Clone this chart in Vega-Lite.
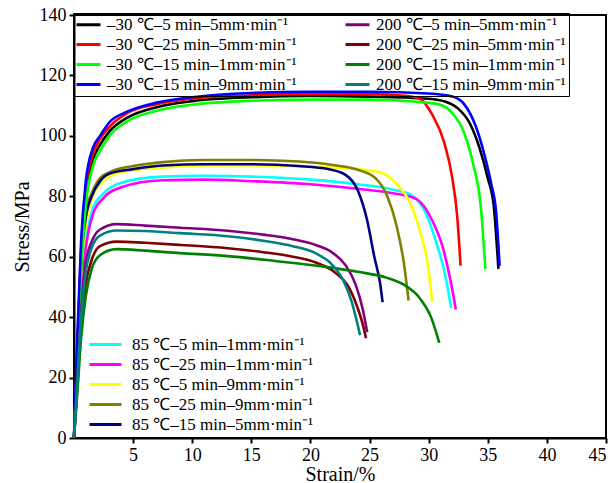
{
"$schema":"https://vega.github.io/schema/vega-lite/v6.json",
"width":532,"height":423,
"autosize":{"type":"none"},
"padding":{"left":74,"top":15,"right":8,"bottom":45},
"config":{"font":"Liberation Serif","view":{"stroke":"black","strokeWidth":2},
"axis":{"domainColor":"black","domainWidth":2,"tickColor":"black","tickWidth":2,"tickSize":5,"labelFont":"Liberation Serif","labelFontSize":18,"labelColor":"black","titleFont":"Liberation Serif","titleFontSize":20,"titleFontWeight":"normal","titleColor":"black","grid":false},
"legend":{"labelFont":"Liberation Serif","labelFontSize":17,"labelColor":"black","labelLimit":0,"symbolStrokeWidth":3,"title":null}},
"data":{"values":[
{"k":"A1","x":0,"y":0},{"k":"A1","x":0.3,"y":30},{"k":"A1","x":0.6,"y":58},{"k":"A1","x":1.0,"y":80},{"k":"A1","x":1.6,"y":92},{"k":"A1","x":2.2,"y":97},{"k":"A1","x":3,"y":101.5},{"k":"A1","x":4.5,"y":106},{"k":"A1","x":7,"y":109.5},{"k":"A1","x":10,"y":111.5},{"k":"A1","x":15,"y":112.8},{"k":"A1","x":20,"y":113.2},{"k":"A1","x":25,"y":113},{"k":"A1","x":30,"y":112.3},{"k":"A1","x":31.5,"y":111.2},{"k":"A1","x":32.5,"y":109},{"k":"A1","x":33.5,"y":104},{"k":"A1","x":34.3,"y":96},{"k":"A1","x":35,"y":86},{"k":"A1","x":35.5,"y":77},{"k":"A1","x":35.9,"y":56},
{"k":"A2","x":0,"y":0},{"k":"A2","x":0.3,"y":33},{"k":"A2","x":0.6,"y":62},{"k":"A2","x":1.0,"y":83},{"k":"A2","x":1.6,"y":94},{"k":"A2","x":2.2,"y":99},{"k":"A2","x":3,"y":103},{"k":"A2","x":4.5,"y":107.5},{"k":"A2","x":7,"y":110.5},{"k":"A2","x":10,"y":112.3},{"k":"A2","x":15,"y":113.4},{"k":"A2","x":20,"y":113.8},{"k":"A2","x":25,"y":113.8},{"k":"A2","x":28,"y":113.3},{"k":"A2","x":29.3,"y":112.2},{"k":"A2","x":30.3,"y":107},{"k":"A2","x":31.3,"y":98},{"k":"A2","x":32,"y":86},{"k":"A2","x":32.4,"y":74},{"k":"A2","x":32.7,"y":57},
{"k":"A3","x":0,"y":0},{"k":"A3","x":0.3,"y":28},{"k":"A3","x":0.6,"y":55},{"k":"A3","x":1.0,"y":77},{"k":"A3","x":1.6,"y":90},{"k":"A3","x":2.2,"y":95},{"k":"A3","x":3,"y":100},{"k":"A3","x":4.5,"y":104.8},{"k":"A3","x":7,"y":108.3},{"k":"A3","x":10,"y":110.3},{"k":"A3","x":15,"y":111.6},{"k":"A3","x":20,"y":112},{"k":"A3","x":25,"y":112},{"k":"A3","x":29,"y":111.3},{"k":"A3","x":30.8,"y":110.5},{"k":"A3","x":32,"y":107.5},{"k":"A3","x":33,"y":101},{"k":"A3","x":33.8,"y":90},{"k":"A3","x":34.4,"y":77},{"k":"A3","x":34.8,"y":56},
{"k":"A4","x":0,"y":0},{"k":"A4","x":0.3,"y":35},{"k":"A4","x":0.6,"y":65},{"k":"A4","x":1.0,"y":85},{"k":"A4","x":1.6,"y":96},{"k":"A4","x":2.2,"y":100},{"k":"A4","x":3,"y":104.5},{"k":"A4","x":4.5,"y":108},{"k":"A4","x":7,"y":111},{"k":"A4","x":10,"y":112.8},{"k":"A4","x":15,"y":114.2},{"k":"A4","x":20,"y":114.6},{"k":"A4","x":25,"y":114.6},{"k":"A4","x":30,"y":114},{"k":"A4","x":32,"y":113},{"k":"A4","x":33,"y":110.5},{"k":"A4","x":34,"y":103},{"k":"A4","x":34.7,"y":94},{"k":"A4","x":35.3,"y":84},{"k":"A4","x":35.7,"y":75},{"k":"A4","x":36,"y":57},
{"k":"B1","x":0,"y":0},{"k":"B1","x":0.3,"y":20},{"k":"B1","x":0.6,"y":42},{"k":"B1","x":1.0,"y":58},{"k":"B1","x":1.5,"y":65},{"k":"B1","x":2.2,"y":69},{"k":"B1","x":3.6,"y":70.8},{"k":"B1","x":6,"y":70.3},{"k":"B1","x":9,"y":69.6},{"k":"B1","x":13,"y":68.6},{"k":"B1","x":16,"y":67.3},{"k":"B1","x":18.5,"y":65.8},{"k":"B1","x":20.5,"y":63.8},{"k":"B1","x":21.8,"y":61.5},{"k":"B1","x":23,"y":57},{"k":"B1","x":23.8,"y":51},{"k":"B1","x":24.4,"y":43},{"k":"B1","x":24.8,"y":35},
{"k":"B2","x":0,"y":0},{"k":"B2","x":0.3,"y":18},{"k":"B2","x":0.6,"y":37},{"k":"B2","x":1.0,"y":51},{"k":"B2","x":1.5,"y":59},{"k":"B2","x":2.2,"y":63.5},{"k":"B2","x":3.6,"y":65},{"k":"B2","x":6,"y":64.6},{"k":"B2","x":9,"y":63.9},{"k":"B2","x":13,"y":62.8},{"k":"B2","x":16,"y":61.5},{"k":"B2","x":18.5,"y":60},{"k":"B2","x":20.5,"y":58},{"k":"B2","x":22,"y":55},{"k":"B2","x":23.3,"y":49.5},{"k":"B2","x":24,"y":43},{"k":"B2","x":24.4,"y":38},{"k":"B2","x":24.7,"y":33},
{"k":"B3","x":0,"y":0},{"k":"B3","x":0.3,"y":16},{"k":"B3","x":0.6,"y":33},{"k":"B3","x":1.0,"y":47},{"k":"B3","x":1.5,"y":56},{"k":"B3","x":2.2,"y":60.5},{"k":"B3","x":3.6,"y":62.5},{"k":"B3","x":6,"y":62},{"k":"B3","x":9,"y":61.2},{"k":"B3","x":13,"y":60.2},{"k":"B3","x":17,"y":58.6},{"k":"B3","x":21,"y":56.8},{"k":"B3","x":24,"y":55},{"k":"B3","x":26.5,"y":53},{"k":"B3","x":28,"y":50.5},{"k":"B3","x":29.2,"y":46.5},{"k":"B3","x":30.2,"y":40},{"k":"B3","x":30.9,"y":31.5},
{"k":"B4","x":0,"y":0},{"k":"B4","x":0.3,"y":20},{"k":"B4","x":0.6,"y":40},{"k":"B4","x":1.0,"y":55},{"k":"B4","x":1.5,"y":63},{"k":"B4","x":2.2,"y":67},{"k":"B4","x":3.6,"y":68.7},{"k":"B4","x":6,"y":68.5},{"k":"B4","x":9,"y":67.8},{"k":"B4","x":13,"y":66.8},{"k":"B4","x":16,"y":65.3},{"k":"B4","x":18.5,"y":63.5},{"k":"B4","x":20.5,"y":61},{"k":"B4","x":21.8,"y":57.5},{"k":"B4","x":22.8,"y":52},{"k":"B4","x":23.5,"y":45},{"k":"B4","x":23.9,"y":39},{"k":"B4","x":24.2,"y":34},
{"k":"C1","x":0,"y":0},{"k":"C1","x":0.3,"y":25},{"k":"C1","x":0.6,"y":50},{"k":"C1","x":1.0,"y":65},{"k":"C1","x":1.6,"y":76},{"k":"C1","x":2.5,"y":81},{"k":"C1","x":4,"y":84.5},{"k":"C1","x":7.5,"y":86.5},{"k":"C1","x":11,"y":86.8},{"k":"C1","x":15,"y":86.5},{"k":"C1","x":20,"y":85.5},{"k":"C1","x":24,"y":84},{"k":"C1","x":27,"y":82.2},{"k":"C1","x":28.5,"y":80.5},{"k":"C1","x":29.8,"y":74},{"k":"C1","x":30.7,"y":64},{"k":"C1","x":31.4,"y":54},{"k":"C1","x":31.9,"y":43},
{"k":"C2","x":0,"y":0},{"k":"C2","x":0.3,"y":24},{"k":"C2","x":0.6,"y":48},{"k":"C2","x":1.0,"y":63},{"k":"C2","x":1.6,"y":74},{"k":"C2","x":2.5,"y":79.5},{"k":"C2","x":4,"y":83},{"k":"C2","x":7.5,"y":85.3},{"k":"C2","x":11,"y":85.5},{"k":"C2","x":15,"y":85},{"k":"C2","x":20,"y":84},{"k":"C2","x":24,"y":82.5},{"k":"C2","x":27,"y":81},{"k":"C2","x":29,"y":79},{"k":"C2","x":30.3,"y":72},{"k":"C2","x":31.2,"y":63},{"k":"C2","x":31.8,"y":53},{"k":"C2","x":32.3,"y":42.5},
{"k":"C3","x":0,"y":0},{"k":"C3","x":0.3,"y":28},{"k":"C3","x":0.6,"y":55},{"k":"C3","x":1.0,"y":70},{"k":"C3","x":1.6,"y":80},{"k":"C3","x":2.5,"y":85},{"k":"C3","x":4,"y":88},{"k":"C3","x":7.5,"y":89.5},{"k":"C3","x":11,"y":90.2},{"k":"C3","x":15,"y":90.2},{"k":"C3","x":20,"y":89.8},{"k":"C3","x":24,"y":89},{"k":"C3","x":26,"y":87.8},{"k":"C3","x":27.3,"y":84},{"k":"C3","x":28.4,"y":78},{"k":"C3","x":29.3,"y":68},{"k":"C3","x":29.9,"y":58},{"k":"C3","x":30.3,"y":45},
{"k":"C4","x":0,"y":0},{"k":"C4","x":0.3,"y":30},{"k":"C4","x":0.6,"y":60},{"k":"C4","x":1.0,"y":75},{"k":"C4","x":1.5,"y":81},{"k":"C4","x":2.2,"y":86},{"k":"C4","x":3,"y":88},{"k":"C4","x":5,"y":90},{"k":"C4","x":7.5,"y":91.3},{"k":"C4","x":11,"y":92},{"k":"C4","x":15,"y":92},{"k":"C4","x":19,"y":91.5},{"k":"C4","x":22,"y":90.3},{"k":"C4","x":24,"y":88.8},{"k":"C4","x":25.5,"y":86},{"k":"C4","x":26.5,"y":80},{"k":"C4","x":27.3,"y":70},{"k":"C4","x":27.9,"y":58},{"k":"C4","x":28.3,"y":45.5},
{"k":"C5","x":0,"y":0},{"k":"C5","x":0.3,"y":30},{"k":"C5","x":0.6,"y":58},{"k":"C5","x":1.0,"y":73},{"k":"C5","x":1.5,"y":80},{"k":"C5","x":2.2,"y":85},{"k":"C5","x":3,"y":87.5},{"k":"C5","x":5,"y":89},{"k":"C5","x":7.5,"y":90.2},{"k":"C5","x":11,"y":90.6},{"k":"C5","x":15,"y":90.6},{"k":"C5","x":19,"y":90},{"k":"C5","x":21.5,"y":89},{"k":"C5","x":23,"y":87},{"k":"C5","x":24,"y":82},{"k":"C5","x":24.8,"y":72},{"k":"C5","x":25.4,"y":60},{"k":"C5","x":25.9,"y":51},{"k":"C5","x":26.1,"y":45}
]},
"layer":[
{"transform":[{"filter":{"field":"k","oneOf":["C1","C2","C3","C4","C5"]}}],
"mark":{"type":"line","interpolate":"monotone","strokeWidth":2.6},
"encoding":{
"x":{"field":"x","type":"quantitative","scale":{"domain":[0,45],"nice":false},"axis":{"values":[5,10,15,20,25,30,35,40,45],"title":"Strain/%","labelPadding":3,"titlePadding":0}},
"y":{"field":"y","type":"quantitative","scale":{"domain":[0,140],"nice":false},"axis":{"values":[0,20,40,60,80,100,120,140],"title":"Stress/MPa","labelPadding":3,"titlePadding":7}},
"color":{"field":"k","type":"nominal","scale":{"domain":["C1","C2","C3","C4","C5"],"range":["#00ffff","#ff00ff","#ffff00","#808000","#000080"]},
"legend":{"orient":"none","legendX":12,"legendY":318,"padding":3,"symbolType":"M-2,0H6","symbolSize":64,"labelOffset":26,"rowPadding":2,
"labelExpr":"datum.value=='C1'?'85 ℃–5 min–1mm·min⁻¹':datum.value=='C2'?'85 ℃–25 min–1mm·min⁻¹':datum.value=='C3'?'85 ℃–5 min–9mm·min⁻¹':datum.value=='C4'?'85 ℃–25 min–9mm·min⁻¹':'85 ℃–15 min–5mm·min⁻¹'"}}}},
{"transform":[{"filter":{"field":"k","oneOf":["A1","A2","A3","A4","B1","B2","B3","B4"]}}],
"mark":{"type":"line","interpolate":"monotone","strokeWidth":2.6},
"encoding":{
"x":{"field":"x","type":"quantitative"},
"y":{"field":"y","type":"quantitative"},
"color":{"field":"k","type":"nominal","scale":{"domain":["A1","A2","A3","A4","B1","B2","B3","B4"],"range":["#000000","#ff0000","#00ff00","#0000ff","#800080","#800000","#008000","#008080"]},
"legend":{"orient":"none","legendX":-1,"legendY":-2,"columns":2,"columnPadding":42,"padding":3,"symbolType":"M-2,0H4","symbolSize":64,"labelOffset":14,"rowPadding":2,"strokeColor":"black",
"encoding":{"legend":{"update":{"strokeWidth":{"value":2}}}},
"labelExpr":"datum.value=='A1'?'–30 ℃–5 min–5mm·min⁻¹':datum.value=='A2'?'–30 ℃–25 min–5mm·min⁻¹':datum.value=='A3'?'–30 ℃–15 min–1mm·min⁻¹':datum.value=='A4'?'–30 ℃–15 min–9mm·min⁻¹':datum.value=='B1'?'200 ℃–5 min–5mm·min⁻¹':datum.value=='B2'?'200 ℃–25 min–5mm·min⁻¹':datum.value=='B3'?'200 ℃–15 min–1mm·min⁻¹':'200 ℃–15 min–9mm·min⁻¹'"}}}}
],
"resolve":{"scale":{"color":"independent"}}
}
